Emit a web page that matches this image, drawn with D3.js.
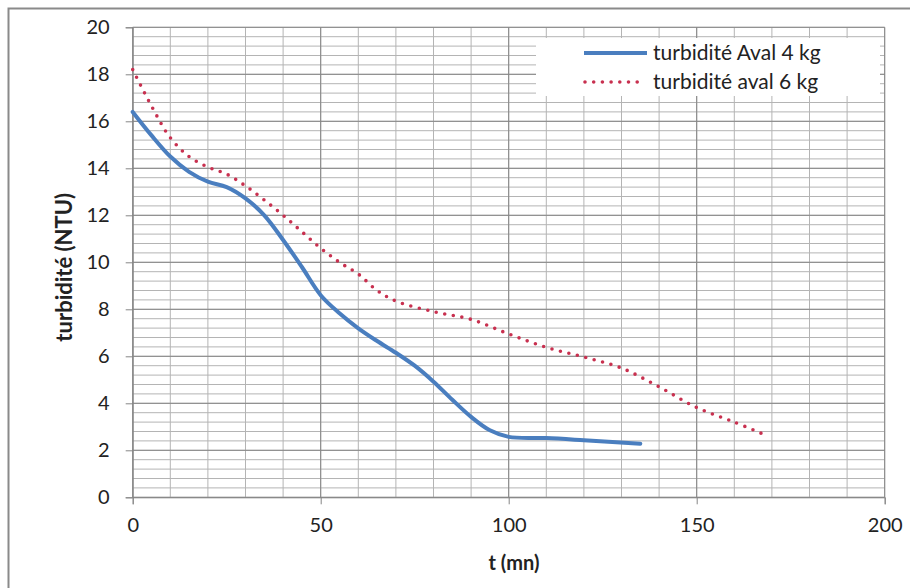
<!DOCTYPE html>
<html><head><meta charset="utf-8">
<script src="https://cdn.jsdelivr.net/npm/d3@7"></script>
<style>body{margin:0;background:#fff}svg{display:block}text{font-family:Lato,"Noto Sans",sans-serif}</style>
</head><body><svg id="c" width="910" height="588"></svg>
<script>
const seriesNames = ["turbidité Aval 4 kg", "turbidité aval 6 kg"];
const t4 = [0,5,10,15,20,25,30,35,40,45,50,55,60,65,70,75,80,85,90,95,100,110,120,135];
const v4 = [16.4,15.4,14.5,13.85,13.43,13.2,12.72,12.0,10.95,9.8,8.6,7.83,7.19,6.65,6.15,5.6,4.92,4.15,3.42,2.85,2.57,2.52,2.43,2.28];
const t6 = [0,5,10,15,20,25,30,35,40,45,50,55,60,65,70,80,90,100,110,120,130,140,150,160,169];
const v6 = [18.2,16.65,15.3,14.5,14.05,13.75,13.25,12.65,12.0,11.3,10.6,10.0,9.5,8.8,8.35,7.9,7.57,6.95,6.38,5.97,5.5,4.7,3.82,3.2,2.6];
const xTicks = [0,50,100,150,200];
const yTicks = [0,2,4,6,8,10,12,14,16,18,20];
const xTitle = "t (mn)";
const yTitle = "turbidité (NTU)";

const svg = d3.select("#c");
// outer frame
svg.append("rect").attr("x",8.5).attr("y",8.5).attr("width",910).attr("height",600)
  .attr("fill","#fff").attr("stroke","#8a8a8a").attr("stroke-width",2);

const L=132.7, R=884.7, T=27.3, B=497.3;
const x = d3.scaleLinear().domain([0,200]).range([L,R]);
const y = d3.scaleLinear().domain([0,20]).range([B,T]);

const g = svg.append("g");
// minor grid
const xMinor = d3.range(0,201,10), yMinor = d3.range(0,20.01,0.4);
g.selectAll(".xm").data(xMinor).enter().append("line")
  .attr("x1",d=>x(d)).attr("x2",d=>x(d)).attr("y1",T).attr("y2",B)
  .attr("stroke","#b4b4b4").attr("stroke-width",1);
g.selectAll(".ym").data(yMinor).enter().append("line")
  .attr("x1",L).attr("x2",R).attr("y1",d=>y(d)).attr("y2",d=>y(d))
  .attr("stroke","#b4b4b4").attr("stroke-width",1);
// major grid
g.selectAll(".xM").data(xTicks).enter().append("line")
  .attr("x1",d=>x(d)).attr("x2",d=>x(d)).attr("y1",T).attr("y2",B)
  .attr("stroke","#868686").attr("stroke-width",1);
g.selectAll(".yM").data(yTicks).enter().append("line")
  .attr("x1",L).attr("x2",R).attr("y1",d=>y(d)).attr("y2",d=>y(d))
  .attr("stroke","#868686").attr("stroke-width",1);

// axes
const xa = svg.append("g").attr("transform",`translate(0,${B})`)
  .call(d3.axisBottom(x).tickValues(xTicks).tickSize(7).tickPadding(14));
const ya = svg.append("g").attr("transform",`translate(${L},0)`)
  .call(d3.axisLeft(y).tickValues(yTicks).tickSize(7).tickPadding(16));
[xa,ya].forEach(a=>{
  a.select(".domain").attr("stroke","#868686");
  a.selectAll(".tick line").attr("stroke","#868686");
  a.selectAll("text").attr("font-size",20).attr("fill","#222");
});

// lines
const line = d3.line().curve(d3.curveCatmullRom.alpha(0.5));
svg.append("path").attr("d",line(t4.map((t,i)=>[x(t),y(v4[i])])))
  .attr("fill","none").attr("stroke","#4a7ebf").attr("stroke-width",4).attr("stroke-linecap","round");
svg.append("path").attr("d",line(t6.map((t,i)=>[x(t),y(v6[i])])))
  .attr("fill","none").attr("stroke","#c8304f").attr("stroke-width",3.6)
  .attr("stroke-linecap","round").attr("stroke-dasharray","0 8.7");

// titles
svg.append("text").attr("x",514).attr("y",570).attr("text-anchor","middle")
  .attr("font-size",20).attr("font-weight","bold").attr("fill","#222").text(xTitle);
svg.append("text").attr("transform",`translate(72,${(T+B)/2+5}) rotate(-90)`).attr("text-anchor","middle")
  .attr("font-size",22).attr("font-weight","bold").attr("fill","#222").text(yTitle);

// legend
const lg = svg.append("g");
lg.append("rect").attr("x",536).attr("y",38).attr("width",344).attr("height",58).attr("fill","#fff");
lg.append("line").attr("x1",584).attr("x2",647).attr("y1",53).attr("y2",53)
  .attr("stroke","#4a7ebf").attr("stroke-width",4);
lg.append("line").attr("x1",585).attr("x2",645).attr("y1",82).attr("y2",82)
  .attr("stroke","#c8304f").attr("stroke-width",3.6).attr("stroke-linecap","round").attr("stroke-dasharray","0 8.7");
lg.selectAll(".lt").data(seriesNames).enter().append("text")
  .attr("x",653).attr("y",(d,i)=>53+i*29).attr("dy","0.35em")
  .attr("font-size",21).attr("fill","#222").text(d=>d);
</script></body></html>
